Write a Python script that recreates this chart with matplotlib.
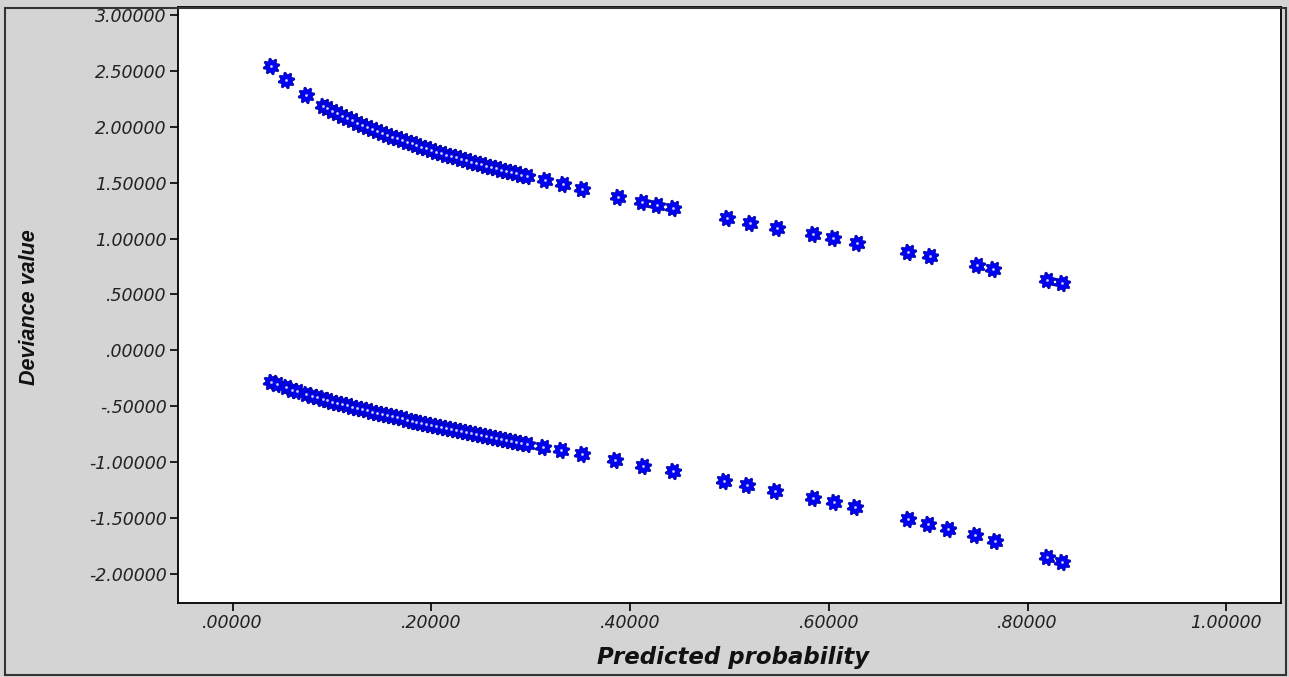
import numpy as np
import matplotlib.pyplot as plt
from matplotlib.path import Path
from matplotlib.patches import Rectangle
from matplotlib.ticker import FuncFormatter

# predicted probabilities and deviance values
p_upper = [0.039, 0.054, 0.074, 0.091, 0.095, 0.100, 0.105, 0.110, 0.115, 0.120,
           0.125, 0.130, 0.135, 0.140, 0.145, 0.150, 0.155, 0.160, 0.165, 0.170,
           0.175, 0.180, 0.185, 0.190, 0.195, 0.200, 0.205, 0.210, 0.215, 0.220,
           0.225, 0.230, 0.235, 0.240, 0.245, 0.250, 0.255, 0.260, 0.265, 0.270,
           0.275, 0.280, 0.285, 0.290, 0.296, 0.314, 0.332, 0.352, 0.388, 0.412,
           0.427, 0.443, 0.497, 0.521, 0.548, 0.584, 0.604, 0.628, 0.680, 0.702,
           0.749, 0.765, 0.820, 0.835]
dev_upper = [2.547, 2.416, 2.282, 2.190, 2.170, 2.146, 2.123, 2.101, 2.080, 2.059,
             2.039, 2.020, 2.001, 1.983, 1.965, 1.948, 1.931, 1.914, 1.898, 1.883,
             1.867, 1.852, 1.837, 1.823, 1.808, 1.794, 1.780, 1.767, 1.753, 1.740,
             1.727, 1.714, 1.702, 1.689, 1.677, 1.665, 1.653, 1.641, 1.630, 1.618,
             1.607, 1.596, 1.585, 1.573, 1.560, 1.522, 1.485, 1.445, 1.376, 1.332,
             1.305, 1.276, 1.182, 1.142, 1.097, 1.037, 1.004, 0.965, 0.878, 0.841,
             0.760, 0.732, 0.630, 0.601]

p_lower = [0.039, 0.045, 0.054, 0.060, 0.065, 0.074, 0.080, 0.085, 0.091, 0.095,
           0.100, 0.105, 0.110, 0.115, 0.120, 0.125, 0.130, 0.135, 0.140, 0.145,
           0.150, 0.155, 0.160, 0.165, 0.170, 0.175, 0.180, 0.185, 0.190, 0.195,
           0.200, 0.205, 0.210, 0.215, 0.220, 0.225, 0.230, 0.235, 0.240, 0.245,
           0.250, 0.255, 0.260, 0.265, 0.270, 0.275, 0.280, 0.285, 0.290, 0.296,
           0.312, 0.330, 0.352, 0.385, 0.413, 0.443, 0.494, 0.518, 0.546, 0.584,
           0.605, 0.626, 0.680, 0.700, 0.720, 0.747, 0.767, 0.820, 0.835]
dev_lower = [-0.282, -0.304, -0.333, -0.352, -0.367, -0.392, -0.408, -0.422, -0.437, -0.447,
             -0.459, -0.471, -0.483, -0.494, -0.506, -0.517, -0.528, -0.539, -0.549, -0.560,
             -0.570, -0.580, -0.591, -0.601, -0.610, -0.620, -0.630, -0.640, -0.649, -0.659,
             -0.668, -0.677, -0.687, -0.696, -0.705, -0.714, -0.723, -0.732, -0.741, -0.750,
             -0.759, -0.767, -0.776, -0.785, -0.793, -0.802, -0.811, -0.819, -0.828, -0.838,
             -0.865, -0.895, -0.932, -0.986, -1.032, -1.082, -1.167, -1.208, -1.257, -1.324,
             -1.363, -1.402, -1.510, -1.552, -1.596, -1.658, -1.707, -1.852, -1.898]

x_ticks = [0.0, 0.2, 0.4, 0.6, 0.8, 1.0]
y_ticks = [-2.0, -1.5, -1.0, -0.5, 0.0, 0.5, 1.0, 1.5, 2.0, 2.5, 3.0]

# gear-like marker (SPSS style)
ang = np.linspace(0, 2 * np.pi, 33)[:-1]
rad = np.where(np.arange(32) % 4 < 2, 1.0, 0.72)
verts = np.column_stack([rad * np.cos(ang + np.pi / 32), rad * np.sin(ang + np.pi / 32)])
verts = np.vstack([verts, verts[:1]])
codes = [Path.MOVETO] + [Path.LINETO] * 31 + [Path.CLOSEPOLY]
gear = Path(verts, codes)

bg = '#d4d4d4'
fig = plt.figure(figsize=(12.89, 6.77), dpi=100, facecolor=bg)
ax = fig.add_axes([0.1381, 0.1093, 0.8557, 0.8797])
ax.set_facecolor('white')

for px, py in [(p_upper, dev_upper), (p_lower, dev_lower)]:
    ax.plot(px, py, linestyle='none', marker=gear, markersize=12,
            markerfacecolor='#0000f5', markeredgecolor='#00008b', markeredgewidth=0.5)
    ax.plot(px, py, linestyle='none', marker='o', markersize=2,
            markerfacecolor='white', markeredgewidth=0, alpha=0.8)

ax.set_xlim(-0.055, 1.055)
ax.set_ylim(-2.263, 3.07)
ax.set_xticks(x_ticks)
ax.set_yticks(y_ticks)


def spss_fmt(v, pos):
    s = f"{v:.5f}"
    if s.startswith('0.'):
        s = s[1:]
    elif s.startswith('-0.'):
        s = '-' + s[2:]
    return s


ax.xaxis.set_major_formatter(FuncFormatter(spss_fmt))
ax.yaxis.set_major_formatter(FuncFormatter(spss_fmt))
ax.tick_params(direction='out', length=6, width=1.2, color='black', pad=2,
               labelsize=12.5, labelcolor='#222222')
for lab in ax.get_xticklabels() + ax.get_yticklabels():
    lab.set_fontstyle('italic')
    lab.set_family('DejaVu Sans')

for sp in ax.spines.values():
    sp.set_linewidth(1.3)
    sp.set_color('black')

ax.set_xlabel('Predicted probability', fontsize=16.5, fontweight='bold',
              fontstyle='italic', family='DejaVu Sans', color='#111111')
ax.xaxis.set_label_coords(0.503, -0.072)
ax.set_ylabel('Deviance value', fontsize=15.5, fontweight='bold',
              fontstyle='italic', family='Liberation Sans', color='#111111')
ax.yaxis.set_label_coords(-0.125, 0.497)

fig.patches.append(Rectangle((0.004, 0.003), 0.994, 0.985, transform=fig.transFigure,
                             fill=False, edgecolor='#333333', linewidth=1.5))

plt.savefig('out.png', dpi=100, facecolor=bg)
